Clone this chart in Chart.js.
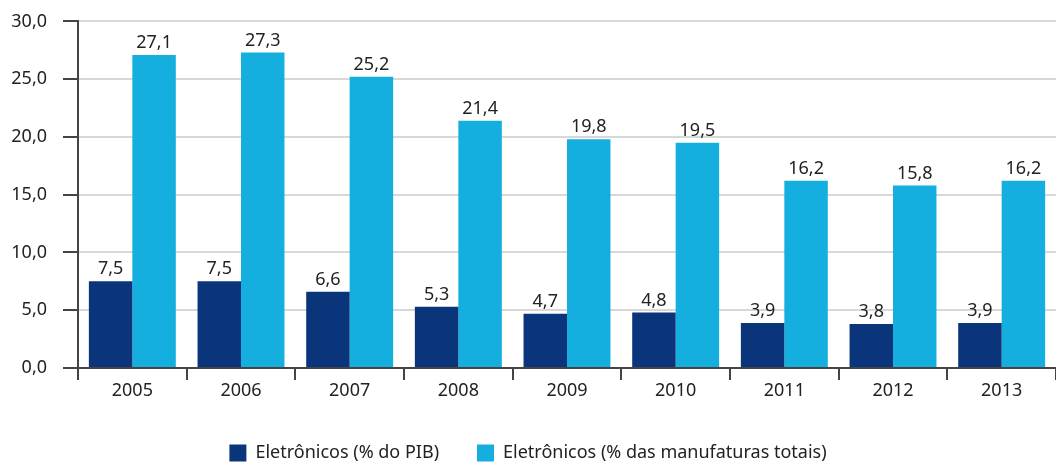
<!DOCTYPE html>
<html>
<head>
<meta charset="utf-8">
<script src="https://cdn.jsdelivr.net/npm/chart.js@4"></script>
<style>
  html, body { margin: 0; padding: 0; background: #fff; }
  #wrap { width: 1056px; height: 462px; position: relative; }
</style>
</head>
<body>
<div id="wrap"><canvas id="chart"></canvas></div>
<script>
const years = ['2005', '2006', '2007', '2008', '2009', '2010', '2011', '2012', '2013'];
const pib = [7.5, 7.5, 6.6, 5.3, 4.7, 4.8, 3.9, 3.8, 3.9];
const manufaturas = [27.1, 27.3, 25.2, 21.4, 19.8, 19.5, 16.2, 15.8, 16.2];
const seriesNames = ['Eletrônicos (% do PIB)', 'Eletrônicos (% das manufaturas totais)'];

const fmt = v => v.toFixed(1).replace('.', ',');

// value labels above each bar
const barLabels = {
  id: 'barLabels',
  afterDatasetsDraw(chart) {
    const c = chart.ctx;
    c.save();
    c.font = '18px "Noto Sans"';
    c.fillStyle = '#222';
    c.textAlign = 'center';
    c.textBaseline = 'bottom';
    chart.data.datasets.forEach((ds, i) => {
      chart.getDatasetMeta(i).data.forEach((bar, j) => {
        c.fillText(fmt(ds.data[j]), bar.x, bar.y - 3);
      });
    });
    c.restore();
  }
};

const ctx = document.getElementById('chart');

const chart = new Chart(ctx, {
    type: 'bar',
    data: {
        labels: years,
        datasets: [
          { label: seriesNames[0], data: pib, backgroundColor: '#0b357a' },
          { label: seriesNames[1], data: manufaturas, backgroundColor: '#14afde' }
        ]
    },
    plugins: [barLabels],
    options: {
      responsive: true,
      maintainAspectRatio: false,
      animation: false,
      layout: { padding: { top: 0, left: 0, right: 0, bottom: -10 } },
      datasets: { bar: { categoryPercentage: 0.8, barPercentage: 1.0 } },
      scales: {
        x: {
          offset: true,
          grid: { offset: true, drawOnChartArea: false, tickLength: 12, color: '#444', lineWidth: 2 },
          border: { color: '#444', width: 2 },
          ticks: { color: '#222', font: { size: 18, family: '"Noto Sans"' }, padding: 0 },
          afterFit: function(scale) { scale.height = 38; }
        },
        y: {
          min: 0,
          max: 30,
          ticks: {
            stepSize: 5,
            color: '#222',
            font: { size: 18, family: '"Noto Sans"', lineHeight: 0.6 },
            padding: 16,
            callback: function(value) { return fmt(value); }
          },
          grid: { color: '#d8d8d8', tickColor: '#444', tickLength: 15, lineWidth: 2 },
          border: { color: '#444', width: 2 },
          afterFit: function(scale) { scale.width = 78; }
        }
      },
      plugins: {
        legend: {
          position: 'bottom',
          padding: 0,
          labels: {
            boxWidth: 17,
            boxHeight: 17,
            padding: 38,
            color: '#222',
            font: { size: 18, family: '"Noto Sans"' }
          }
        },
        tooltip: { enabled: false }
      }
    }
});
</script>
</body>
</html>
